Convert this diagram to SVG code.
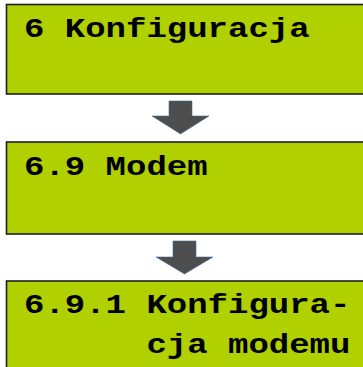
<svg xmlns="http://www.w3.org/2000/svg" width="363" height="367" viewBox="0 0 363 367">
<style>
.box{fill:#b0d000;stroke:#1e1e1e;stroke-width:1.6}
.t{font-family:"Liberation Mono","Courier New",monospace;font-weight:bold;font-size:28px;fill:#000}
.arr{fill:#4d4d4d;stroke:#41719c;stroke-width:0.6}
</style>
<rect x="0" y="0" width="363" height="367" fill="#fff"/>
<g id="node1">
<rect class="box" x="6.5" y="4.5" width="370" height="89.5"/>
<text class="t" x="24" y="37" textLength="285.6" lengthAdjust="spacingAndGlyphs">6 Konfiguracja</text>
</g>
<g id="node2">
<rect class="box" x="6.5" y="142" width="370" height="92"/>
<text class="t" x="24" y="175" textLength="183.6" lengthAdjust="spacingAndGlyphs">6.9 Modem</text>
</g>
<g id="node3">
<rect class="box" x="6.5" y="281" width="370" height="100"/>
<text class="t" x="24" y="313" textLength="326.4" lengthAdjust="spacingAndGlyphs">6.9.1 Konfigura-</text>
<text class="t" x="146.4" y="353" textLength="204" lengthAdjust="spacingAndGlyphs">cja modemu</text>
</g>
<g id="connectors">
<polygon class="arr" points="169,101 192,101 192,116 209,116 180.5,134 152,116 169,116"/>
<polygon class="arr" points="173,241 196,241 196,257 213,257 184.5,274 156,257 173,257"/>
</g>
</svg>
